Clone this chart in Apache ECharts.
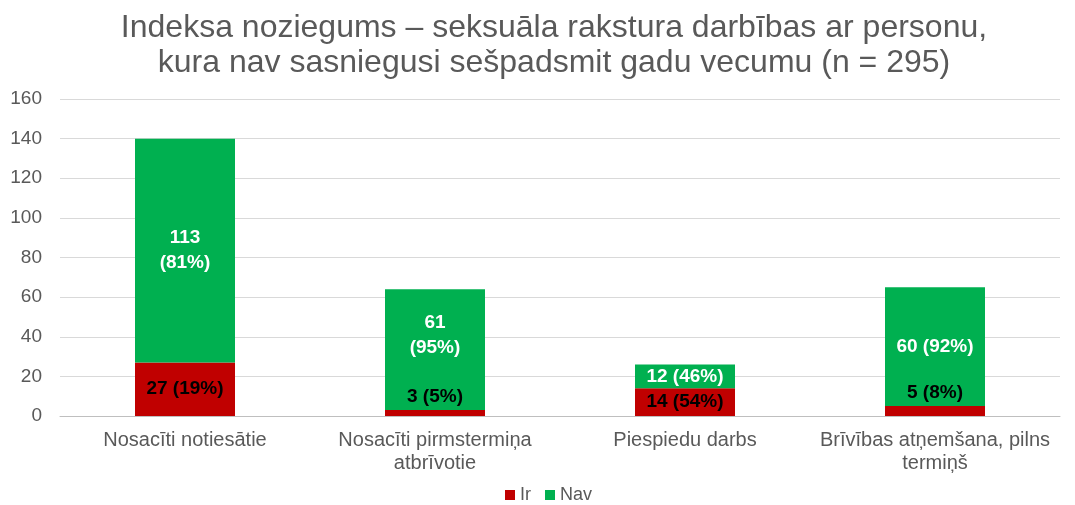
<!DOCTYPE html>
<html>
<head>
<meta charset="utf-8">
<script src="https://cdn.jsdelivr.net/npm/echarts@6/dist/echarts.min.js"></script>
<style>
	html, body { margin: 0; padding: 0; background: #fff; }
	#chart { width: 1075px; height: 505px; }
</style>
</head>
<body>
<div id="chart"></div>
<script>
// dati
var categories = ['Nosacīti notiesātie', 'Nosacīti pirmstermiņa\natbrīvotie', 'Piespiedu darbs', 'Brīvības atņemšana, pilns\ntermiņš'];
var irValues = [27, 3, 14, 5];
var navValues = [113, 61, 12, 60];
var irLabels = ['27 (19%)', '3 (5%)', '14 (54%)', '5 (8%)'];
var navLabels = ['113\n(81%)', '61\n(95%)', '12 (46%)', '60 (92%)'];

var font = '"Liberation Sans", Arial, sans-serif';
var chart = echarts.init(document.getElementById('chart'));

// mazajām vērtībām etiķete virs stabiņa
var irData = irValues.map(function(v, i) {
	var item = { value: v };
	if (v < 10) {
		item.label = { position: 'top', distance: 4 };
	}
	return item;
});
var navData = navValues.map(function(v, i) {
	var item = { value: v };
	if (i == 1) {
		item.label = { offset: [0, -14] };
	}
	return item;
});

var option = {
	animation: false,
	title: {
		text: 'Indeksa noziegums – seksuāla rakstura darbības ar personu,\nkura nav sasniegusi sešpadsmit gadu vecumu (n = 295)',
		left: 549,
		top: 6,
		textAlign: 'center',
		textStyle: {
			fontFamily: font,
			fontSize: 32,
			fontWeight: 'normal',
			color: '#595959',
			lineHeight: 35
		}
	},
	legend: {
		bottom: -4,
		left: 500,
		itemWidth: 10,
		itemHeight: 10,
		itemGap: 14,
		icon: 'rect',
		textStyle: { fontFamily: font, fontSize: 18, color: '#595959' },
		data: ['Ir', 'Nav']
	},
	grid: {
		left: 60,
		right: 15,
		top: 99,
		bottom: 89,
		containLabel: false
	},
	xAxis: {
		type: 'category',
		data: categories,
		axisTick: { show: false },
		axisLine: { lineStyle: { color: '#BFBFBF', width: 1 } },
		axisLabel: {
			fontFamily: font,
			fontSize: 20,
			color: '#595959',
			margin: 13,
			lineHeight: 23,
			interval: 0
		}
	},
	yAxis: {
		type: 'value',
		min: 0,
		max: 160,
		interval: 20,
		axisLine: { show: false },
		axisTick: { show: false },
		splitLine: { lineStyle: { color: '#D9D9D9', width: 1 } },
		axisLabel: {
			fontFamily: font,
			fontSize: 19,
			color: '#595959',
			margin: 18
		}
	},
	series: [{
			name: 'Ir',
			type: 'bar',
			stack: 'kopa',
			barWidth: '40%',
			data: irData,
			itemStyle: { color: '#C00000' },
			label: {
				show: true,
				position: 'inside',
				fontFamily: font,
				fontSize: 19,
				fontWeight: 'bold',
				color: '#000',
				formatter: function(p) { return irLabels[p.dataIndex]; }
			}
		},
		{
			name: 'Nav',
			type: 'bar',
			stack: 'kopa',
			barWidth: '40%',
			data: navData,
			itemStyle: { color: '#00B050' },
			label: {
				show: true,
				position: 'inside',
				fontFamily: font,
				fontSize: 19,
				fontWeight: 'bold',
				color: '#fff',
				lineHeight: 25,
				formatter: function(p) { return navLabels[p.dataIndex]; }
			}
		}
	]
};
chart.setOption(option);
</script>
</body>
</html>
